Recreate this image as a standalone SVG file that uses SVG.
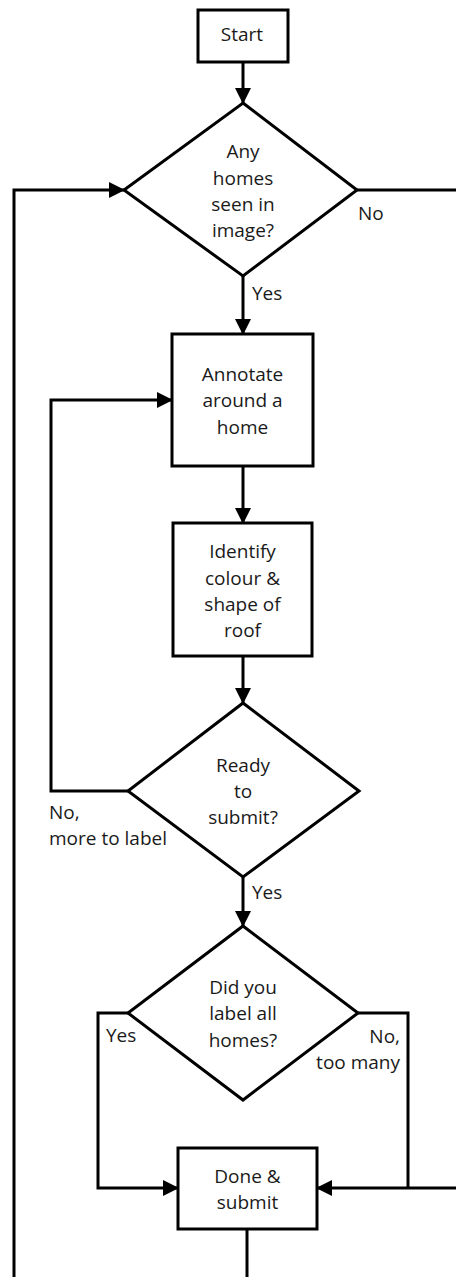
<svg xmlns="http://www.w3.org/2000/svg" width="456" height="1277" viewBox="0 0 456 1277">
  <style>
    .shape { fill: #ffffff; stroke: #000000; stroke-width: 3; stroke-linejoin: miter; }
    .edge { fill: none; stroke: #000000; stroke-width: 3; stroke-linejoin: miter; }
    .arrow { marker-end: url(#head); }
    text { font-family: "Open Sans", "Liberation Sans", sans-serif; font-size: 19px; fill: #1a1a1a; }
    .c { text-anchor: middle; }
    .r { text-anchor: end; }
  </style>
  <defs>
    <marker id="head" markerUnits="userSpaceOnUse" markerWidth="16" markerHeight="16" refX="15" refY="8" orient="auto">
      <path d="M0,0 L16,8 L0,16 z" fill="#000000"/>
    </marker>
  </defs>

  <rect width="456" height="1277" fill="#ffffff"/>

  <!-- connectors -->
  <g id="connectors">
    <line class="edge arrow" x1="243" y1="62" x2="243" y2="103"/>
    <line class="edge arrow" x1="243" y1="276" x2="243" y2="334"/>
    <line class="edge arrow" x1="243" y1="466" x2="243" y2="523"/>
    <line class="edge arrow" x1="243" y1="656" x2="243" y2="703"/>
    <line class="edge arrow" x1="243" y1="877" x2="243" y2="926"/>
    <!-- no homes: exits right -->
    <line class="edge" x1="357" y1="190" x2="456" y2="190"/>
    <!-- return to first decision from the far left -->
    <polyline class="edge arrow" points="14,1277 14,190 124,190"/>
    <!-- more to label loop -->
    <polyline class="edge arrow" points="128,791 51,791 51,400 172,400"/>
    <!-- all homes labelled -->
    <polyline class="edge arrow" points="128,1013 98,1013 98,1188 178,1188"/>
    <!-- too many homes -->
    <polyline class="edge" points="358,1013 408,1013 408,1188"/>
    <line class="edge arrow" x1="456" y1="1188" x2="317" y2="1188"/>
    <!-- leaves bottom -->
    <line class="edge" x1="247" y1="1229" x2="247" y2="1277"/>
  </g>

  <!-- edge labels -->
  <g id="edge-labels">
    <text x="358" y="220">No</text>
    <text x="252" y="300">Yes</text>
    <text x="49" y="819">No,</text>
    <text x="49" y="845">more to label</text>
    <text x="252" y="899">Yes</text>
    <text x="106" y="1042">Yes</text>
    <text class="r" x="400" y="1043">No,</text>
    <text class="r" x="400" y="1069">too many</text>
  </g>

  <g id="start">
    <rect class="shape" x="198" y="10" width="90" height="52"/>
    <text class="c" x="242" y="41">Start</text>
  </g>

  <g id="any-homes">
    <polygon class="shape" points="243,103 357,190 243,276 124,190"/>
    <text class="c" x="243" y="158">Any</text>
    <text class="c" x="243" y="185">homes</text>
    <text class="c" x="243" y="211">seen in</text>
    <text class="c" x="243" y="237">image?</text>
  </g>

  <g id="annotate">
    <rect class="shape" x="172" y="334" width="141" height="132"/>
    <text class="c" x="242.5" y="381">Annotate</text>
    <text class="c" x="242.5" y="407">around a</text>
    <text class="c" x="242.5" y="434">home</text>
  </g>

  <g id="identify">
    <rect class="shape" x="173" y="523" width="139" height="133"/>
    <text class="c" x="242.5" y="558">Identify</text>
    <text class="c" x="242.5" y="585">colour &amp;</text>
    <text class="c" x="242.5" y="611">shape of</text>
    <text class="c" x="242.5" y="637">roof</text>
  </g>

  <g id="ready">
    <polygon class="shape" points="243,703 359,791 243,877 128,791"/>
    <text class="c" x="243" y="772">Ready</text>
    <text class="c" x="243" y="798">to</text>
    <text class="c" x="243" y="824">submit?</text>
  </g>

  <g id="all-homes">
    <polygon class="shape" points="243,926 358,1013 243,1100 128,1013"/>
    <text class="c" x="243" y="994">Did you</text>
    <text class="c" x="243" y="1020">label all</text>
    <text class="c" x="243" y="1047">homes?</text>
  </g>

  <g id="done">
    <rect class="shape" x="178" y="1148" width="139" height="81"/>
    <text class="c" x="247.5" y="1183">Done &amp;</text>
    <text class="c" x="247.5" y="1209">submit</text>
  </g>
</svg>
